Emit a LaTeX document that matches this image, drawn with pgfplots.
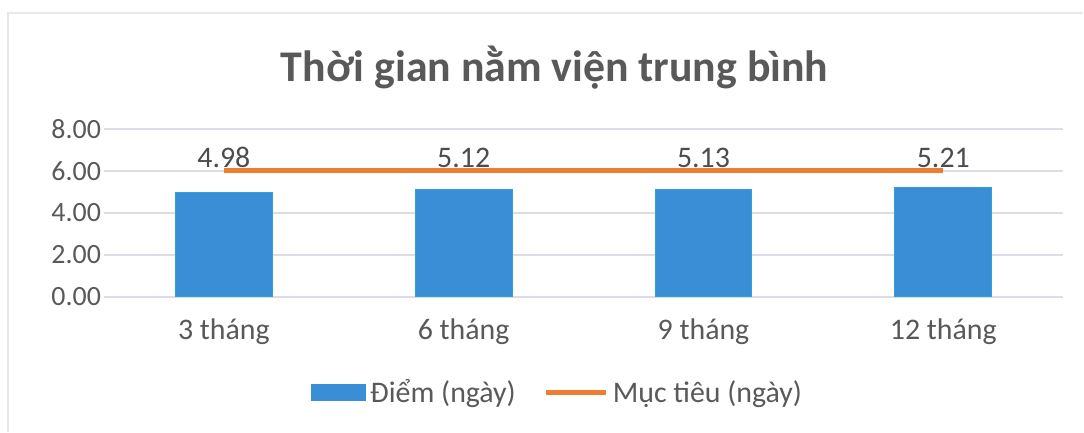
\documentclass[border=0pt]{standalone}
\usepackage{fontspec}
\setmainfont{Carlito}
\usepackage{pgfplots}
\pgfplotsset{compat=1.18}
\definecolor{barblue}{HTML}{3A8ED6}
\definecolor{lineorange}{HTML}{ED7D31}
\definecolor{txtgray}{HTML}{595959}
\definecolor{gridgray}{HTML}{DCDCE4}

\pgfplotstableread{
x y
0 4.98
1 5.12
2 5.13
3 5.21
}\diem

\pgfplotstableread{
x y
0 6
1 6
2 6
3 6
}\muctieu

\begin{document}
\begin{tikzpicture}[x=1bp,y=1bp]
% page frame: 1084x432 px at 2 px per bp, plot area lower-left at (0,0)
\fill[white] (-52,-67.5) rectangle (490,148.5);
\draw[gridgray!70,line width=0.8bp] (-48,-67.5) -- (-48,142) -- (490,142);
\begin{axis}[
  at={(0,0)},anchor=south west,
  scale only axis,width=480bp,height=84bp,
  xmin=-0.5,xmax=3.5,ymin=0,ymax=8,
  xtick={0,1,2,3},xticklabels={3 tháng,6 tháng,9 tháng,12 tháng},
  ytick={0,2,4,6,8},
  axis line style={draw=none},
  major tick length=0pt,
  ymajorgrids,grid style={gridgray,line width=0.8bp},
  tick label style={font=\fontsize{15}{17}\selectfont,text=txtgray},
  yticklabel style={font=\fontsize{14}{16}\selectfont,
    /pgf/number format/fixed,/pgf/number format/fixed zerofill,
    /pgf/number format/precision=2,/pgf/number format/assume math mode=true,xshift=2bp},
  xticklabel style={yshift=-7.5bp},
  legend columns=2,
  legend style={draw=none,fill=none,at={(0.474,-0.571)},anchor=center,
    font=\fontsize{15}{17}\selectfont,text=txtgray,
    /tikz/every even column/.append style={column sep=12bp}},
]
\addplot[ybar,bar width=48.5bp,fill=barblue,draw=barblue!85!cyan,line width=0.5bp,
  legend image code/.code={\fill[barblue] (0bp,-4bp) rectangle (27bp,4bp);}]
  table[x=x,y=y]{\diem};
\addlegendentry{Điểm (ngày)}
\addplot[lineorange,line width=2.6bp,
  legend image code/.code={\draw[lineorange,line width=2.6bp] (0bp,0bp) -- (30bp,0bp);}]
  table[x=x,y=y]{\muctieu};
\addlegendentry{Mục tiêu (ngày)}
% data labels of the bars, shown above the target line as in the original
\addplot[draw=none,mark=none,forget plot,
  nodes near coords,point meta=explicit symbolic,
  every node near coord/.append style={font=\fontsize{15}{17}\selectfont,text=txtgray!85!black,anchor=center,yshift=6.5bp}]
  coordinates {(0,6)[4.98] (1,6)[5.12] (2,6)[5.13] (3,6)[5.21]};
\end{axis}
\node[font=\bfseries\fontsize{22}{25}\selectfont,text=txtgray] at (225.5,114.5) {Thời gian nằm viện trung bình};
\end{tikzpicture}
\end{document}
